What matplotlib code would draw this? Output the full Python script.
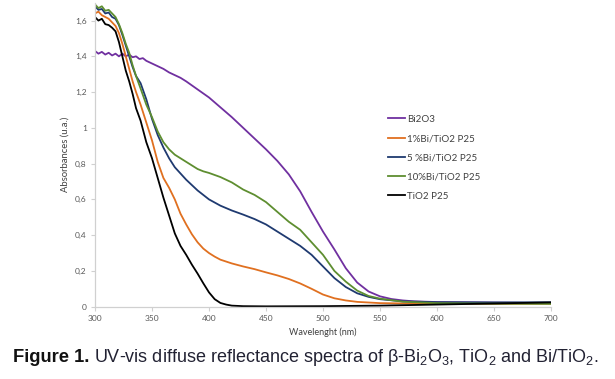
import matplotlib
matplotlib.use("Agg")
import matplotlib.pyplot as plt
from matplotlib import font_manager

# ---------------- data ----------------
wl_bi2o3 = [300, 303, 306, 309, 312, 315, 318, 321, 324, 327, 330, 333, 336, 339, 342, 345,
            350, 355, 360, 365, 370, 375, 380, 390, 400, 410, 420, 430, 440, 450, 460, 470,
            480, 490, 500, 510, 520, 530, 540, 550, 560, 570, 580, 600, 650, 700]
abs_bi2o3 = [1.43, 1.415, 1.425, 1.41, 1.42, 1.405, 1.415, 1.40, 1.415, 1.40, 1.41, 1.395,
             1.40, 1.385, 1.39, 1.375, 1.36, 1.345, 1.33, 1.31, 1.295, 1.28, 1.26, 1.215,
             1.17, 1.115, 1.06, 1.00, 0.94, 0.88, 0.815, 0.74, 0.645, 0.53, 0.42, 0.32,
             0.215, 0.135, 0.085, 0.058, 0.043, 0.035, 0.03, 0.026, 0.023, 0.02]

wl_1bi = [300, 303, 306, 309, 312, 315, 318, 321, 324, 327, 330, 333, 336, 340, 345, 350,
          355, 360, 365, 370, 375, 380, 385, 390, 395, 400, 405, 410, 420, 430, 440, 450,
          460, 470, 480, 490, 500, 510, 520, 530, 550, 600, 650, 700]
abs_1bi = [1.64, 1.65, 1.63, 1.62, 1.61, 1.59, 1.57, 1.53, 1.47, 1.40, 1.33, 1.26, 1.20,
           1.13, 1.03, 0.93, 0.81, 0.72, 0.665, 0.60, 0.52, 0.46, 0.405, 0.36, 0.325, 0.30,
           0.28, 0.263, 0.242, 0.225, 0.21, 0.192, 0.175, 0.155, 0.13, 0.10, 0.068, 0.047,
           0.035, 0.027, 0.02, 0.016, 0.016, 0.017]

wl_5bi = [300, 303, 306, 309, 312, 315, 318, 321, 324, 327, 330, 333, 336, 340, 345, 350,
          355, 360, 365, 370, 375, 380, 385, 390, 395, 400, 410, 420, 430, 440, 450, 460,
          470, 480, 490, 500, 510, 520, 530, 540, 550, 570, 600, 650, 700]
abs_5bi = [1.68, 1.66, 1.665, 1.64, 1.645, 1.62, 1.61, 1.575, 1.52, 1.46, 1.40, 1.34, 1.29,
           1.25, 1.16, 1.05, 0.96, 0.89, 0.83, 0.78, 0.745, 0.71, 0.68, 0.65, 0.625, 0.60,
           0.565, 0.538, 0.515, 0.49, 0.46, 0.42, 0.38, 0.34, 0.29, 0.225, 0.16, 0.11,
           0.075, 0.055, 0.042, 0.03, 0.025, 0.024, 0.025]

wl_10bi = [300, 303, 306, 309, 312, 315, 318, 321, 324, 327, 330, 333, 336, 340, 345, 350,
           355, 360, 365, 370, 375, 380, 385, 390, 395, 400, 410, 420, 430, 440, 450, 460,
           470, 480, 490, 500, 510, 520, 530, 540, 550, 570, 600, 650, 700]
abs_10bi = [1.69, 1.67, 1.68, 1.655, 1.66, 1.64, 1.62, 1.58, 1.53, 1.47, 1.42, 1.35, 1.29,
            1.22, 1.13, 1.06, 0.98, 0.92, 0.88, 0.85, 0.83, 0.81, 0.79, 0.77, 0.757, 0.748,
            0.725, 0.695, 0.655, 0.625, 0.585, 0.53, 0.475, 0.43, 0.36, 0.29, 0.20, 0.14,
            0.09, 0.06, 0.045, 0.028, 0.02, 0.017, 0.016]

wl_tio2 = [300, 303, 306, 309, 312, 315, 318, 321, 324, 327, 330, 333, 336, 340, 345, 350,
           355, 360, 365, 370, 375, 380, 385, 390, 395, 400, 405, 410, 415, 420, 430, 450,
           500, 550, 600, 650, 700]
abs_tio2 = [1.62, 1.60, 1.61, 1.58, 1.575, 1.56, 1.54, 1.48, 1.40, 1.32, 1.26, 1.19, 1.11,
            1.04, 0.92, 0.83, 0.72, 0.61, 0.51, 0.41, 0.34, 0.29, 0.235, 0.185, 0.131, 0.08,
            0.042, 0.021, 0.012, 0.006, 0.003, 0.002, 0.003, 0.006, 0.012, 0.018, 0.024]

series_labels = ["Bi2O3", "1%Bi/TiO2 P25", "5 %Bi/TiO2 P25", "10%Bi/TiO2 P25", "TiO2 P25"]
series_colors = ["#7030A0", "#E07020", "#1F3A70", "#5E8E30", "#000000"]
x_ticks = [300, 350, 400, 450, 500, 550, 600, 650, 700]
y_ticks = [0, 0.2, 0.4, 0.6, 0.8, 1.0, 1.2, 1.4, 1.6]
y_tick_labels = ["0", "0,2", "0,4", "0,6", "0,8", "1", "1,2", "1,4", "1,6"]

# ---------------- figure ----------------
names = {f.name for f in font_manager.fontManager.ttflist}
chart_font = "Lato" if "Lato" in names else "DejaVu Sans"
narrow = "Liberation Sans Narrow" if "Liberation Sans Narrow" in names else "Liberation Sans"

plt.rcParams["font.family"] = [chart_font, "DejaVu Sans"]
plt.rcParams["mathtext.fontset"] = "custom"
plt.rcParams["mathtext.rm"] = narrow
plt.rcParams["mathtext.it"] = narrow

W, H = 615, 379
fig = plt.figure(figsize=(W / 100, H / 100), dpi=100)
ax = fig.add_axes([95 / W, 1 - 306.7 / H, (551 - 95) / W, (306.7 - 2.7) / H])

xs = [wl_bi2o3, wl_1bi, wl_5bi, wl_10bi, wl_tio2]
ys = [abs_bi2o3, abs_1bi, abs_5bi, abs_10bi, abs_tio2]
for x, y, lab, c in zip(xs, ys, series_labels, series_colors):
    ax.plot(x, y, color=c, lw=1.3, label=lab)

ax.set_xlim(300, 700)
ax.set_ylim(0, 1.70)
ax.set_xticks(x_ticks)
ax.set_xticklabels([str(t) for t in x_ticks])
ax.set_yticks(y_ticks)
ax.set_yticklabels(y_tick_labels)
for s in ["top", "right"]:
    ax.spines[s].set_visible(False)
for s in ["left", "bottom"]:
    ax.spines[s].set_color("#D0D0D0")
    ax.spines[s].set_linewidth(0.9)
ax.tick_params(axis="both", colors="#D0D0D0", labelcolor="#595959", labelsize=6,
               length=3, width=0.8, direction="out", pad=3)

ax.set_xlabel("Wavelenght (nm)", fontsize=6.5, color="#404040", labelpad=4)
ax.set_ylabel("Absorbances (u.a.)", fontsize=6.8, color="#404040", labelpad=4)

leg = ax.legend(loc="upper left", bbox_to_anchor=(383 / W, 1 - 110 / H),
                bbox_transform=fig.transFigure, frameon=False, fontsize=7,
                handlelength=1.8, handletextpad=0.2, labelspacing=1.05, borderpad=0)
for t in leg.get_texts():
    t.set_color("#404040")

# ---------------- caption ----------------
fig.canvas.draw()
r = fig.canvas.get_renderer()
t1 = fig.text(13 / W, 1 - 362 / H, "Figure 1.", fontsize=13.2, fontweight="bold",
              family=["Liberation Sans", "DejaVu Sans"], color="#111111", va="baseline")
bb = t1.get_window_extent(renderer=r)
cap_size = 13.2 if narrow == "Liberation Sans Narrow" else 12.95
fig.text((bb.x1 + 5) / W, 1 - 362 / H,
         r"UV-vis diffuse reflectance spectra of β-Bi$_2$O$_3$, TiO$_2$ and Bi/TiO$_2$.",
         fontsize=cap_size, family=[narrow, "DejaVu Sans"], color="#222233", va="baseline")

fig.savefig("out.png", dpi=100)
